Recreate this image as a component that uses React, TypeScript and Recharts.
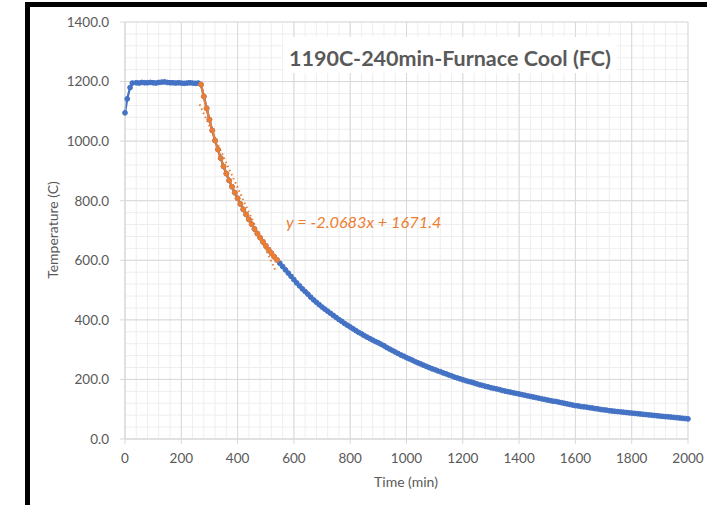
import React from 'react';
import { LineChart, Line, XAxis, YAxis, CartesianGrid } from 'recharts';

const timeMin = [
  0, 8, 18, 26, 40, 50, 60, 70, 80, 90, 100, 110, 120, 130, 140, 150, 160, 170, 180, 190, 200, 210, 220, 230, 240, 250, 260,
  270, 280, 290, 300, 310, 320, 330, 340, 350, 360, 370, 380, 390, 400, 410, 420, 430, 440, 450, 460, 470, 480, 490, 500,
  510, 520, 530, 540, 550, 560, 570, 580, 590, 600, 610, 620, 630, 640, 650, 660, 670, 680, 690, 700, 710, 720, 730, 740,
  750, 760, 770, 780, 790, 800, 810, 820, 830, 840, 850, 860, 870, 880, 890, 900, 910, 920, 930, 940, 950, 960, 970, 980,
  990, 1000, 1010, 1020, 1030, 1040, 1050, 1060, 1070, 1080, 1090, 1100, 1110, 1120, 1130, 1140, 1150, 1160, 1170, 1180,
  1190, 1200, 1210, 1220, 1230, 1240, 1250, 1260, 1270, 1280, 1290, 1300, 1310, 1320, 1330, 1340, 1350, 1360, 1370, 1380,
  1390, 1400, 1410, 1420, 1430, 1440, 1450, 1460, 1470, 1480, 1490, 1500, 1510, 1520, 1530, 1540, 1550, 1560, 1570, 1580,
  1590, 1600, 1610, 1620, 1630, 1640, 1650, 1660, 1670, 1680, 1690, 1700, 1710, 1720, 1730, 1740, 1750, 1760, 1770, 1780,
  1790, 1800, 1810, 1820, 1830, 1840, 1850, 1860, 1870, 1880, 1890, 1900, 1910, 1920, 1930, 1940, 1950, 1960, 1970, 1980,
  1990, 2000,
];

const tempC = [
  1095, 1142, 1180, 1195, 1196, 1195, 1197, 1196, 1196, 1197, 1196, 1195, 1197, 1198, 1199, 1197, 1196, 1196, 1195, 1196,
  1195, 1194, 1195, 1196, 1195, 1194, 1195,
  1190, 1150, 1110, 1072, 1036, 1002, 972, 943, 915, 891, 868, 847, 827, 808, 789, 771, 754, 737, 721, 705, 690, 676, 662,
  649, 636, 624, 612, 601, 590, 579, 568, 557, 546, 535, 524, 514, 504, 495, 486, 476, 467, 459, 451, 443, 436, 429, 422,
  415, 408, 401, 395, 388, 382, 376, 370, 364, 358, 353, 347, 342, 337, 332, 327, 323, 318, 313, 307, 302, 297, 292, 287,
  282, 278, 273, 269, 265, 260, 256, 252, 248, 244, 240, 236, 233, 229, 226, 222, 219, 215, 212, 208, 205, 202, 199, 196,
  193, 191, 188, 185, 182, 180, 177, 175, 172, 170, 168, 166, 163, 161, 159, 157, 155, 153, 151, 149, 147, 145, 143, 141,
  139, 137, 135, 133, 131, 129, 127, 126, 124, 122, 120, 118, 116, 114, 112, 111, 109, 108, 107, 105, 104, 102, 101, 99,
  98, 97, 95, 94, 93, 92, 91, 90, 89, 88, 87, 86, 85, 84, 83, 82, 81, 80, 79, 78, 77, 76, 75, 74.5, 73.5, 72.5, 71.5,
  70.5, 69.5, 68.5, 67.5,
];

const xTicks = [0, 200, 400, 600, 800, 1000, 1200, 1400, 1600, 1800, 2000];
const yTicks = [0, 200, 400, 600, 800, 1000, 1200, 1400];
const xMinorTicks = Array.from({ length: 51 }, (_, i) => i * 40);
const yMinorTicks = Array.from({ length: 36 }, (_, i) => i * 40);
const xDomain = [0, 2000];
const yDomain = [0, 1400];

const fitStart = 270;
const fitEnd = 540;
const trendSlope = -2.0683;
const trendIntercept = 1671.4;
const trendRange = [265, 537];

const titleText = '1190C-240min-Furnace Cool (FC)';
const trendLabel = 'y = -2.0683x + 1671.4';
const xTitle = 'Time (min)';
const yTitle = 'Temperature (C)';

const allData = timeMin.map((t, i) => ({ t, T: tempC[i] }));
const fitData = allData.filter((d) => d.t >= fitStart && d.t <= fitEnd);
const trendData = trendRange.map((t) => ({ t, T: trendSlope * t + trendIntercept }));

const BLUE = '#4472C4';
const ORANGE = '#ED7D31';
const TXT = '#595959';

const minorX = (props: any) => {
  const ax = props && props.xAxis;
  const off = props.offset;
  return xMinorTicks.map((v) =>
    ax && typeof ax.scale === 'function'
      ? ax.scale(v)
      : off.left + (off.width * (v - xDomain[0])) / (xDomain[1] - xDomain[0])
  );
};
const minorY = (props: any) => {
  const ax = props && props.yAxis;
  const off = props.offset;
  return yMinorTicks.map((v) =>
    ax && typeof ax.scale === 'function'
      ? ax.scale(v)
      : off.top + off.height - (off.height * (v - yDomain[0])) / (yDomain[1] - yDomain[0])
  );
};

export default function App() {
  return (
    <div
      style={{
        position: 'absolute',
        left: 0,
        top: 0,
        width: 707,
        height: 505,
        overflow: 'hidden',
        background: '#fff',
        fontFamily: 'Lato, sans-serif',
      }}
    >
      <div
        style={{
          position: 'absolute',
          left: 25,
          top: 2,
          width: 720,
          height: 520,
          borderLeft: '5px solid #000',
          borderTop: '5px solid #000',
        }}
      />
      <div style={{ position: 'absolute', left: 0, top: 0 }}>
        <LineChart width={707} height={505} margin={{ top: 22, right: 19, bottom: 36, left: 65 }}>
          <CartesianGrid
            stroke="#eeeeee"
            strokeWidth={1}
            verticalCoordinatesGenerator={minorX}
            horizontalCoordinatesGenerator={minorY}
          />
          <CartesianGrid stroke="#d9d9d9" strokeWidth={1} />
          <XAxis
            type="number"
            dataKey="t"
            domain={xDomain}
            ticks={xTicks}
            interval={0}
            height={30}
            tickSize={5}
            tickMargin={9}
            tick={{ fill: TXT, fontSize: 13.5 }}
            tickLine={{ stroke: '#d9d9d9' }}
            axisLine={{ stroke: '#d9d9d9' }}
          />
          <YAxis
            type="number"
            domain={yDomain}
            ticks={yTicks}
            interval={0}
            width={60}
            tickSize={5}
            tickMargin={11}
            tickFormatter={(v: number) => v.toFixed(1)}
            tick={{ fill: TXT, fontSize: 13.5 }}
            tickLine={{ stroke: '#d9d9d9' }}
            axisLine={{ stroke: '#d9d9d9' }}
          />
          <Line
            data={allData}
            dataKey="T"
            stroke={BLUE}
            strokeWidth={2.25}
            dot={{ r: 2.4, fill: BLUE, stroke: BLUE, strokeWidth: 1 }}
            activeDot={false}
            isAnimationActive={false}
          />
          <Line
            data={fitData}
            dataKey="T"
            stroke={ORANGE}
            strokeWidth={2.25}
            dot={{ r: 2.4, fill: ORANGE, stroke: ORANGE, strokeWidth: 1 }}
            activeDot={false}
            isAnimationActive={false}
          />
          <Line
            data={trendData}
            dataKey="T"
            stroke={ORANGE}
            strokeWidth={2}
            strokeDasharray="1.5 3"
            dot={false}
            activeDot={false}
            isAnimationActive={false}
          />
        </LineChart>
      </div>
      <svg
        width={707}
        height={505}
        style={{ position: 'absolute', left: 0, top: 0, pointerEvents: 'none' }}
      >
        <rect x={283} y={37} width={334} height={36} fill="#fff" />
        <text x={450} y={66} textAnchor="middle" fill={TXT} fontSize={21.5} fontWeight="bold" fontFamily="Lato, sans-serif">
          {titleText}
        </text>
        <text x={286} y={228} fill={ORANGE} fontSize={16.3} fontStyle="italic" fontFamily="Lato, sans-serif">
          {trendLabel}
        </text>
        <text x={406} y={487} textAnchor="middle" fill={TXT} fontSize={14} fontFamily="Lato, sans-serif">
          {xTitle}
        </text>
        <text
          x={0}
          y={0}
          transform="translate(58,230) rotate(-90)"
          textAnchor="middle"
          fill={TXT}
          fontSize={14}
          fontFamily="Lato, sans-serif"
        >
          {yTitle}
        </text>
      </svg>
    </div>
  );
}
